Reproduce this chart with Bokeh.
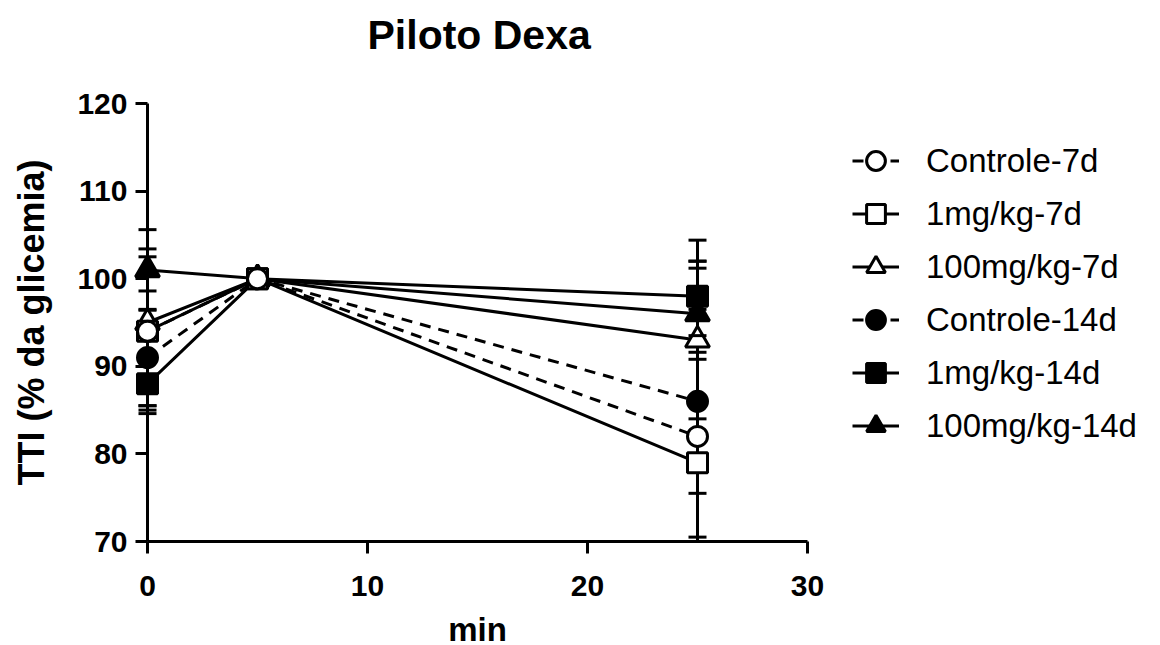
from bokeh.plotting import figure
from bokeh.models import Range1d, FixedTicker, Legend, LegendItem, ColumnDataSource, Title
from bokeh.core.properties import value
from bokeh.embed import file_html
from bokeh.resources import INLINE

# ---------------- data ----------------
time_min = [0, 5, 25]
series_names = ["Controle-7d", "1mg/kg-7d", "100mg/kg-7d",
                "Controle-14d", "1mg/kg-14d", "100mg/kg-14d"]

controle_7d = [94, 100, 82]
controle_7d_err = [9.4, None, 11.5]
mg1_7d = [94, 100, 79]
mg1_7d_err = [8.5, None, 23]
mg100_7d = [95, 100, 93]
mg100_7d_err = [3.6, None, 9]
controle_14d = [91, 100, 86]
controle_14d_err = [5.5, None, 10.5]
mg1_14d = [88, 100, 98]
mg1_14d_err = [3, None, 6.4]
mg100_14d = [101, 100, 96]
mg100_14d_err = [4.6, None, 5.2]

x_ticks = [0, 10, 20, 30]
y_ticks = [70, 80, 90, 100, 110, 120]
x_label = "min"
y_label = "TTI (% da glicemia)"
title_text = "Piloto Dexa"

series_values = [controle_7d, mg1_7d, mg100_7d, controle_14d, mg1_14d, mg100_14d]
series_errors = [controle_7d_err, mg1_7d_err, mg100_7d_err,
                 controle_14d_err, mg1_14d_err, mg100_14d_err]

# ---------------- styles ----------------
markers = ["circle", "square", "triangle", "circle", "square", "triangle"]
filled = [False, False, False, True, True, True]
dashed = [True, False, False, True, False, False]
marker_sizes = {"circle": 20, "square": 20, "triangle": 24}

FONT = "Liberation Sans"
W, H = 1160, 645
LEFT = 147          # frame left edge (x = 0)
AXIS_PX = 660       # pixel length of the 0..30 x axis

x_end = x_ticks[-1] * (W - LEFT) / AXIS_PX

p = figure(width=W, height=H, output_backend="svg", toolbar_location=None,
           x_range=Range1d(x_ticks[0], x_end),
           y_range=Range1d(y_ticks[0], y_ticks[-1]),
           min_border_left=LEFT, min_border_right=0,
           min_border_top=102, min_border_bottom=104)
p.outline_line_color = None
p.xgrid.visible = False
p.ygrid.visible = False
p.background_fill_color = "white"
p.border_fill_color = "white"

# real title (outermost), then a spacer title nearest the frame
p.title.text = title_text
p.title.align = "left"
p.title.offset = 220
p.title.text_font = FONT
p.title.text_font_style = "bold"
p.title.text_font_size = "41px"
p.title.text_color = "black"
p.title.standoff = 18
spacer = Title(text=" ", text_font_size="10px", standoff=24)
p.add_layout(spacer, "above")

xa = p.xaxis[0]
ya = p.yaxis[0]
xa.ticker = FixedTicker(ticks=x_ticks)
ya.ticker = FixedTicker(ticks=y_ticks)
xa.bounds = (x_ticks[0], x_ticks[-1])
ya.axis_label = y_label
for ax in (xa, ya):
    ax.axis_line_width = 3
    ax.axis_line_color = "black"
    ax.major_tick_line_width = 3
    ax.major_tick_line_color = "black"
    ax.major_tick_out = 12
    ax.major_tick_in = 0
    ax.minor_tick_out = 0
    ax.minor_tick_in = 0
    ax.major_label_text_font = FONT
    ax.major_label_text_font_style = "bold"
    ax.major_label_text_font_size = "30px"
    ax.major_label_text_color = "black"
    ax.axis_label_text_font = FONT
    ax.axis_label_text_font_style = "bold"
    ax.axis_label_text_color = "black"
xa.major_label_standoff = 22
ya.major_label_standoff = 8
ya.axis_label_text_font_size = "36px"
ya.axis_label_standoff = 22

# x-axis title, centred under the 0..30 axis
p.text(x=[(x_ticks[0] + x_ticks[-1]) / 2], y=[y_ticks[0]], text=[x_label],
       text_align="center", text_baseline="alphabetic", y_offset=88,
       text_font=value(FONT), text_font_style="bold", text_font_size="33px",
       text_color="black", level="overlay")

legend_items = {}
order = list(range(len(series_names)))[::-1]
for i in order:
    vals = series_values[i]
    errs = [float("nan") if e is None else e for e in series_errors[i]]
    upper = [v + e for v, e in zip(vals, errs)]
    lower = [v - e for v, e in zip(vals, errs)]
    src = ColumnDataSource(dict(x=time_min, y=vals, upper=upper, lower=lower))
    lr = p.line("x", "y", source=src, line_color="black", line_width=3,
                line_dash="11 8" if dashed[i] else "solid")
    p.segment(x0="x", y0="lower", x1="x", y1="upper", source=src,
              line_color="black", line_width=3)
    p.scatter("x", "upper", source=src, marker="dash", size=18,
              line_color="black", line_width=3, level="overlay")
    p.scatter("x", "lower", source=src, marker="dash", size=18,
              line_color="black", line_width=3, level="overlay")
    mr = p.scatter("x", "y", source=src, marker=markers[i],
                   size=marker_sizes[markers[i]],
                   fill_color="black" if filled[i] else "white",
                   line_color="black", line_width=3, level="overlay")
    legend_items[i] = LegendItem(label=series_names[i], renderers=[lr, mr])

legend = Legend(items=[legend_items[i] for i in range(len(series_names))],
                location=(705, 89))
legend.glyph_width = 47
legend.glyph_height = 53
legend.label_height = 53
legend.spacing = 0
legend.padding = 0
legend.margin = 0
legend.label_standoff = 27
legend.border_line_alpha = 0
legend.background_fill_alpha = 0
legend.label_text_font = FONT
legend.label_text_font_size = "33px"
legend.label_text_color = "black"
p.add_layout(legend)

open("out.html", "w").write(file_html(p, INLINE))
